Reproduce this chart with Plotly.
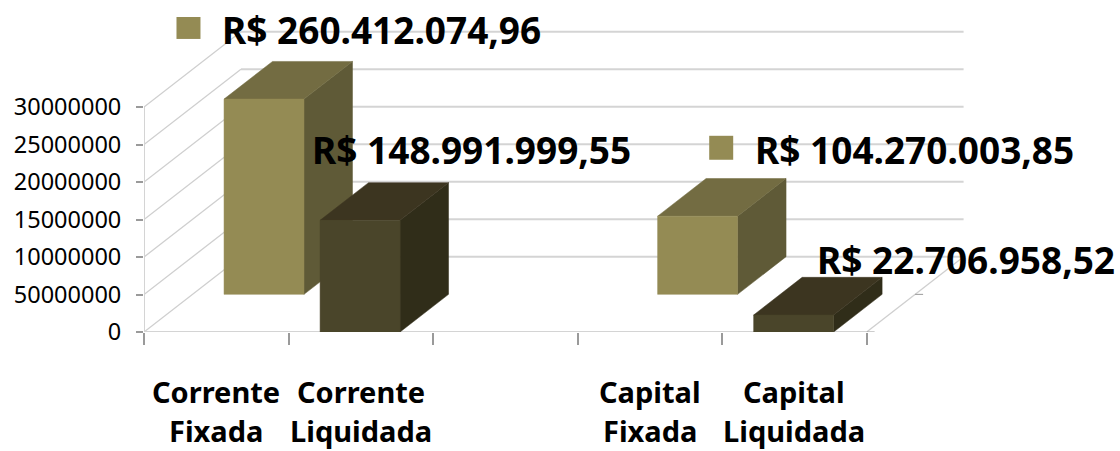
import plotly.graph_objects as go

W, H = 1120, 451
L, B = 143.5, 118.5

categories_line1 = ["Corrente", "Corrente", "", "Capital", "Capital"]
categories_line2 = ["Fixada", "Liquidada", "", "Fixada", "Liquidada"]
values = [260412074.96, 148991999.55, None, 104270003.85, 22706958.52]
rows = [1, 0, None, 1, 0]                 # depth row: 1 = back, 0 = front
value_labels = ["R$ 260.412.074,96", "R$ 148.991.999,55", "", "R$ 104.270.003,85", "R$ 22.706.958,52"]
tick_values = [0, 50e6, 100e6, 150e6, 200e6, 250e6, 300e6]
tick_labels = ["0", "50000000", "10000000", "15000000", "20000000", "25000000", "30000000"]

FRONT = {1: "#948B54", 0: "#4A452A"}
TOP = {1: "#736C42", 0: "#3C3520"}
SIDE = {1: "#5F5A37", 0: "#302D19"}
GRID = "#D4D4D4"
TICK = "#9A9A9A"
TEXT = "#000000"

CAT_PX = 144.6
VAL_PX = 37.55 / 50e6
ROW_DX = 48.5 / CAT_PX      # category units per depth row
ROW_DY = 37.7 / VAL_PX      # value units per depth row
BAR_W = 80 / CAT_PX

x_range = [0, (W - L) / CAT_PX]
y_range = [0, (H - B) / VAL_PX]


def proj(x, v, d):
    return x + d * ROW_DX, v + d * ROW_DY


def poly(fig, pts, color):
    fig.add_trace(go.Scatter(
        x=[p[0] for p in pts] + [pts[0][0]],
        y=[p[1] for p in pts] + [pts[0][1]],
        mode="lines", fill="toself", fillcolor=color,
        line=dict(color=color, width=0.5),
        hoverinfo="skip", showlegend=False))


def line(fig, a, b, color=GRID, width=1.6):
    fig.add_trace(go.Scatter(
        x=[a[0], b[0]], y=[a[1], b[1]], mode="lines",
        line=dict(color=color, width=width),
        hoverinfo="skip", showlegend=False, cliponaxis=False))


fig = go.Figure()
n = len(categories_line1)

# back wall gridlines and side wall diagonals
for t in tick_values:
    line(fig, proj(0, t, 2), proj(n, t, 2), width=2)
    line(fig, proj(0, t, 0), proj(0, t, 2), color="#CFCFCF", width=1.3)
# left edge, floor edges
line(fig, proj(0, 0, 0), proj(0, tick_values[-1], 0), width=2)
line(fig, proj(0, 0, 0), proj(n, 0, 0), width=2)
line(fig, proj(n, 0, 0), proj(n, 0, 2), color="#CFCFCF", width=1.3)
# depth axis ticks
for d in (0, 1):
    a = proj(n, 0, d)
    line(fig, a, (a[0] + 8 / CAT_PX, a[1]), color=TICK, width=1)

# bars, back row first
for row in (1, 0):
    for i, v in enumerate(values):
        if v is None or rows[i] != row:
            continue
        x0, x1 = i + 0.5 - BAR_W / 2 - 0.005, i + 0.5 + BAR_W / 2 - 0.005
        d0, d1 = row, row + 1
        poly(fig, [proj(x1, 0, d0), proj(x1, 0, d1), proj(x1, v, d1), proj(x1, v, d0)], SIDE[row])
        poly(fig, [proj(x0, v, d0), proj(x1, v, d0), proj(x1, v, d1), proj(x0, v, d1)], TOP[row])
        poly(fig, [proj(x0, 0, d0), proj(x1, 0, d0), proj(x1, v, d0), proj(x0, v, d0)], FRONT[row])

annotations = []
LABEL_FONT = dict(family="Noto Sans", size=37, color=TEXT, weight="bold")
CAT_FONT = dict(family="Noto Sans", size=29, color=TEXT, weight="bold")

# value labels, placed by pixel position
label_pos = {0: (221, 30), 1: (311, 150), 3: (754, 150), 4: (816, 260)}
for i, (px, py) in label_pos.items():
    annotations.append(dict(
        text=value_labels[i], xref="paper", yref="paper",
        x=(px - L) / (W - L), y=(H - B - py) / (H - B),
        xanchor="left", yanchor="middle", showarrow=False, font=LABEL_FONT, borderpad=0))

# category labels
for i in range(n):
    for txt, shift in ((categories_line1[i], -59), (categories_line2[i], -98)):
        if txt:
            annotations.append(dict(
                text=txt, xref="x", yref="paper", x=i + 0.5, y=0, yshift=shift,
                xanchor="center", yanchor="middle", showarrow=False, font=CAT_FONT, borderpad=0))

# legend keys beside two labels
shapes = []
for x0, y0, x1, y1 in [(176, 17, 200, 39), (709, 136, 733, 160)]:
    shapes.append(dict(
        type="rect", xref="paper", yref="paper",
        x0=(x0 - L) / (W - L), x1=(x1 - L) / (W - L),
        y0=(H - B - y1) / (H - B), y1=(H - B - y0) / (H - B),
        fillcolor=FRONT[1], line=dict(width=0), layer="above"))

fig.update_layout(
    width=W, height=H, autosize=False,
    margin=dict(l=L, r=0, t=0, b=B, pad=0),
    paper_bgcolor="white", plot_bgcolor="white",
    showlegend=False, annotations=annotations, shapes=shapes,
    xaxis=dict(
        range=x_range, showgrid=False, zeroline=False, showline=False,
        tickmode="array", tickvals=[i for i in range(n + 1)], ticktext=[""] * (n + 1),
        ticks="outside", ticklen=12, tickwidth=1.5, tickcolor=TICK, fixedrange=True),
    yaxis=dict(
        range=y_range, showgrid=False, zeroline=False, showline=False,
        tickmode="array", tickvals=tick_values, ticktext=tick_labels,
        ticks="outside", ticklen=7, tickwidth=1.5, tickcolor=TICK, ticklabelstandoff=10,
        tickfont=dict(family="Noto Sans", size=23.5, color=TEXT), fixedrange=True),
)

fig.write_html("out.html", config=dict(displayModeBar=False),
               post_script="document.body.style.margin='0';document.body.style.overflow='hidden';")
